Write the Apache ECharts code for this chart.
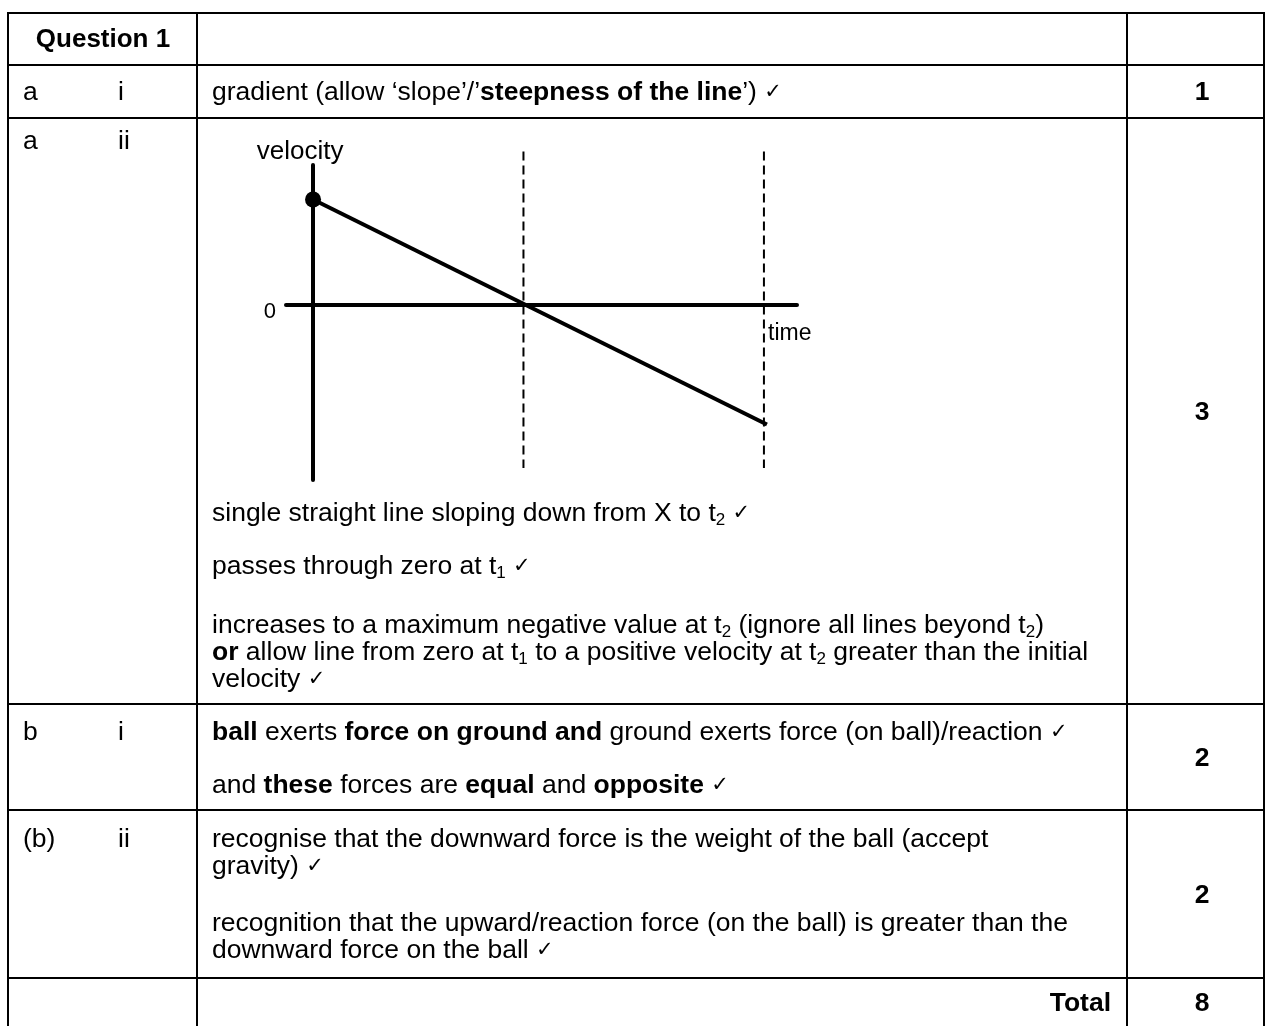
<!DOCTYPE html>
<html>
<head>
<meta charset="utf-8">
<title>Question 1 mark scheme</title>
<script src="https://cdn.jsdelivr.net/npm/echarts@6/dist/echarts.min.js"></script>
<style>
  html, body { margin: 0; padding: 0; background: #fff; }
  #chart { width: 1265px; height: 1026px; }
</style>
</head>
<body>
<div id="chart"></div>
<script>
// velocity-time sketch (time units / velocity units)
var timePoints = [0, 15.1];
var velocityPoints = [7, -8.0];
var guideTimes = [7, 15];          // t1, t2
var guideSpan = [10.2, -10.9];     // dashed guide from .. to
var yAxisSpan = [9.3, -11.7];      // drawn velocity axis
var zeroTick = [0];

// table rows
var rowLines = [13, 65, 118, 704, 810, 978];
var colLines = [8, 197, 1127, 1264];
var marks = ['1', '3', '2', '2', '8'];
var markRows = [93, 413, 759, 896, 1004];

var F = '"Liberation Sans", Arial, sans-serif';
var FS = 26.5;
var rich = {
  b: { fontWeight: 'bold', fontSize: FS, fontFamily: F, fill: '#000' },
  sub: { fontSize: 17, fontFamily: F, padding: [12, 0, 0, 0], fill: '#000' },
  ck: { fontSize: 21, fontFamily: 'DejaVu Sans', fill: '#000' }
};

var bodyLines = [
  [212, 93, 'gradient (allow \u2018slope\u2019/\u2019{b|steepness of the line}\u2019) {ck|\u2713}'],
  [212, 514, 'single straight line sloping down from X to t{sub|2} {ck|\u2713}'],
  [212, 567, 'passes through zero at t{sub|1} {ck|\u2713}'],
  [212, 626, 'increases to a maximum negative value at t{sub|2} (ignore all lines beyond t{sub|2})'],
  [212, 653, '{b|or} allow line from zero at t{sub|1} to a positive velocity at t{sub|2} greater than the initial'],
  [212, 680, 'velocity {ck|\u2713}'],
  [212, 733, '{b|ball} exerts {b|force on ground and} ground exerts force (on ball)/reaction {ck|\u2713}'],
  [212, 786, 'and {b|these} forces are {b|equal} and {b|opposite} {ck|\u2713}'],
  [212, 840, 'recognise that the downward force is the weight of the ball (accept'],
  [212, 867, 'gravity) {ck|\u2713}'],
  [212, 924, 'recognition that the upward/reaction force (on the ball) is greater than the'],
  [212, 951, 'downward force on the ball {ck|\u2713}']
];
var partLabels = [
  [23, 93, 'a'], [118, 93, 'i'],
  [23, 142, 'a'], [118, 142, 'ii'],
  [23, 733, 'b'], [118, 733, 'i'],
  [23, 840, '(b)'], [118, 840, 'ii']
];

var chart = echarts.init(document.getElementById('chart'), null, { renderer: 'canvas' });

var graphics = [];
rowLines.forEach(function (y) {
  graphics.push({ type: 'line', shape: { x1: colLines[0] - 1, y1: y, x2: colLines[3] + 1, y2: y },
    style: { stroke: '#000', lineWidth: 2 } });
});
colLines.forEach(function (x) {
  graphics.push({ type: 'line', shape: { x1: x, y1: rowLines[0], x2: x, y2: 1026 },
    style: { stroke: '#000', lineWidth: 2 } });
});
function txt(x, y, s, opt) {
  var st = { text: s, x: x, y: y, fill: '#000', fontSize: FS, fontFamily: F,
    textAlign: 'left', textVerticalAlign: 'middle', rich: rich };
  for (var k in opt) st[k] = opt[k];
  graphics.push({ type: 'text', style: st });
}
txt(103, 40, 'Question 1', { fontWeight: 'bold', textAlign: 'center', fontSize: 26 });
partLabels.forEach(function (p) { txt(p[0], p[1], p[2]); });
bodyLines.forEach(function (p) { txt(p[0], p[1], p[2]); });
marks.forEach(function (m, i) { txt(1202, markRows[i], m, { fontWeight: 'bold', textAlign: 'center' }); });
txt(1111, 1004, 'Total', { fontWeight: 'bold', textAlign: 'right' });

var option = {
  animation: false,
  backgroundColor: '#fff',
  grid: { left: 286, top: 165, width: 511, height: 315 },
  xAxis: {
    type: 'value', min: -0.9, max: 16.1,
    axisLine: { onZero: true, lineStyle: { color: '#000', width: 4 } },
    axisTick: { show: false }, axisLabel: { show: false }, splitLine: { show: false },
    name: 'time', nameLocation: 'end', nameGap: -29,
    nameTextStyle: { color: '#000', fontSize: 23, fontFamily: F, align: 'left', verticalAlign: 'top', padding: [18, 0, 0, 0] }
  },
  yAxis: {
    type: 'value', min: yAxisSpan[1], max: yAxisSpan[0],
    axisLine: { onZero: true, lineStyle: { color: '#000', width: 4 } },
    axisTick: { show: false }, splitLine: { show: false },
    axisLabel: { customValues: zeroTick, color: '#000', fontSize: 22, fontFamily: F, margin: 10,
      verticalAlign: 'top', lineHeight: 14 },
    name: 'velocity', nameLocation: 'end', nameGap: 0,
    nameTextStyle: { color: '#000', fontSize: 26, fontFamily: F, padding: [0, 26, 0, 0] }
  },
  series: [
    {
      type: 'line', silent: true, clip: false,
      data: timePoints.map(function (t, i) { return [t, velocityPoints[i]]; }),
      lineStyle: { color: '#000', width: 4 },
      symbol: 'circle', showAllSymbol: true,
      symbolSize: function (v, p) { return p.dataIndex === 0 ? 16 : 0; },
      itemStyle: { color: '#000' }
    }
  ].concat(guideTimes.map(function (t) {
    return {
      type: 'line', silent: true, clip: false, symbol: 'none',
      data: [[t, guideSpan[0]], [t, guideSpan[1]]],
      lineStyle: { color: '#000', width: 2, type: [9, 5] }
    };
  })),
  graphic: graphics
};
chart.setOption(option);
</script>
</body>
</html>
